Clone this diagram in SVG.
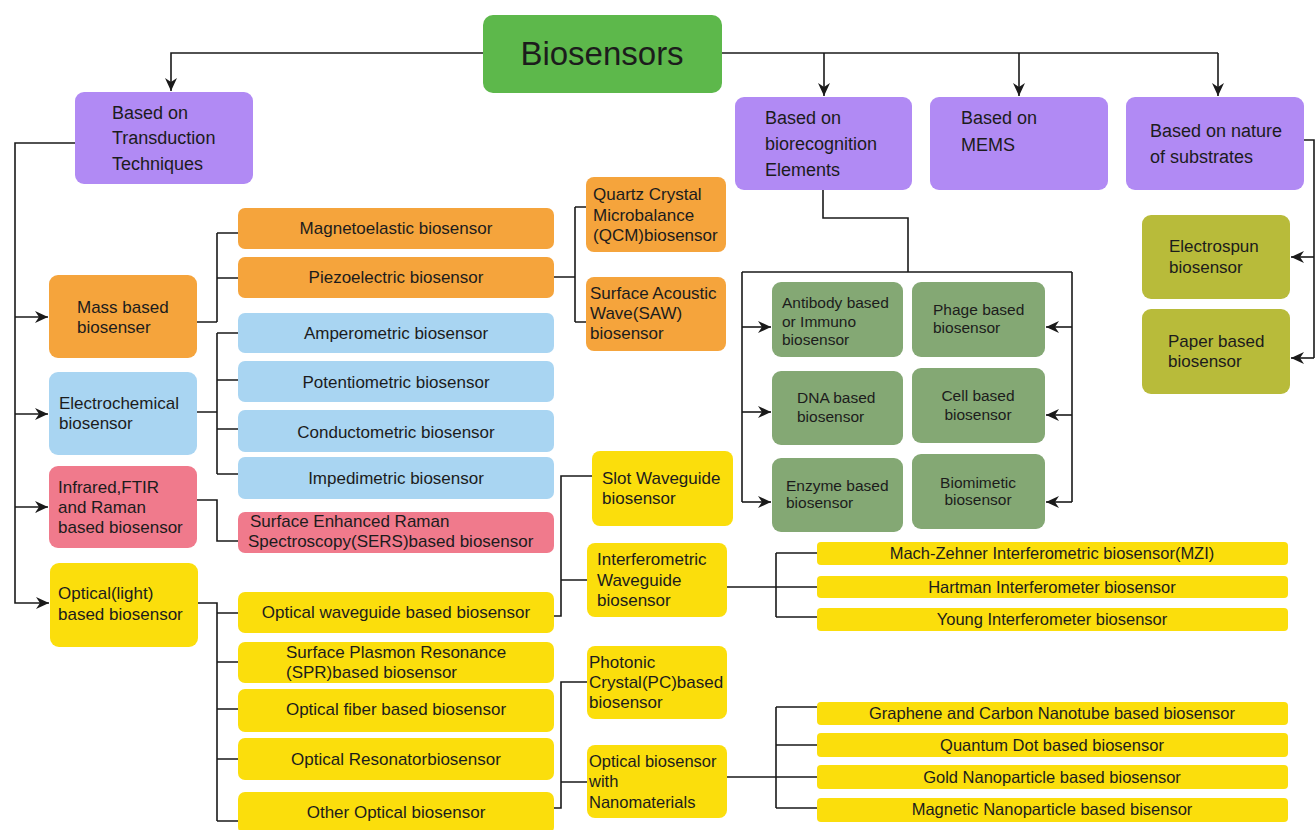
<svg xmlns="http://www.w3.org/2000/svg" width="1315" height="830" viewBox="0 0 1315 830">
<style>
  text { font-family: "Liberation Sans", Arial, sans-serif; fill: #1c1c1c; }
  .t18 { font-size: 18px; }
  .t17 { font-size: 17px; }
  .t16 { font-size: 16.5px; }
  .t15 { font-size: 15.5px; }
  .c { text-anchor: middle; }
  .purple { fill: #b18af4; }
  .green { fill: #5db84b; }
  .orange { fill: #f5a43c; }
  .blue { fill: #a9d5f2; }
  .pink { fill: #f07a8c; }
  .yellow { fill: #fbde0c; }
  .olive { fill: #b8bb3a; }
  .sage { fill: #84a874; }
  .ln { fill: none; stroke: #1a1a1a; stroke-width: 1.6; }
</style>
<defs>
  <marker id="arr" markerUnits="userSpaceOnUse" markerWidth="14" markerHeight="12" refX="13" refY="6" orient="auto">
    <path d="M0,0 L13,6 L0,12 L4,6 Z" fill="#1a1a1a"/>
  </marker>
</defs>
<rect width="1315" height="830" fill="#ffffff"/>

<g id="connectors">
  <path class="ln" d="M483,53 H171 V91" marker-end="url(#arr)"/>
  <path class="ln" d="M722,53 H1218"/>
  <path class="ln" d="M824,53 V96" marker-end="url(#arr)"/>
  <path class="ln" d="M1019,53 V96" marker-end="url(#arr)"/>
  <path class="ln" d="M1218,53 V96" marker-end="url(#arr)"/>

  <path class="ln" d="M75,143 H15 V603 H49" marker-end="url(#arr)"/>
  <path class="ln" d="M15,317 H48" marker-end="url(#arr)"/>
  <path class="ln" d="M15,414 H48" marker-end="url(#arr)"/>
  <path class="ln" d="M15,507 H48" marker-end="url(#arr)"/>

  <path class="ln" d="M197,322 H217 M217,233 V322 M217,233 H238 M217,278 H238"/>
  <path class="ln" d="M197,412 H217 M217,333 V474 M217,333 H238 M217,380 H238 M217,429 H238 M217,474 H238"/>
  <path class="ln" d="M197,500 H217 V541 H238"/>
  <path class="ln" d="M198,603 H217 V821 M217,613 H238 M217,662 H238 M217,709 H238 M217,759 H238 M217,821 H238"/>

  <path class="ln" d="M554,277 H575 M575,207 V322 M575,207 H586 M575,322 H586"/>
  <path class="ln" d="M554,616 H561 V476 H592 M561,580 H587"/>
  <path class="ln" d="M554,808 H561 V682 H587 M561,782 H587"/>

  <path class="ln" d="M727,587 H776 M776,553 V617 M776,553 H817 M776,587 H817 M776,617 H817"/>
  <path class="ln" d="M727,777 H776 M776,707 V808 M776,707 H817 M776,745 H817 M776,777 H817 M776,808 H817"/>

  <path class="ln" d="M823,190 V218 H908 V272 M742,272 H1072 M742,272 V502 M1072,272 V502"/>
  <path class="ln" d="M742,327 H771" marker-end="url(#arr)"/>
  <path class="ln" d="M742,412 H771" marker-end="url(#arr)"/>
  <path class="ln" d="M742,502 H771" marker-end="url(#arr)"/>
  <path class="ln" d="M1072,327 H1046" marker-end="url(#arr)"/>
  <path class="ln" d="M1072,415 H1046" marker-end="url(#arr)"/>
  <path class="ln" d="M1072,502 H1046" marker-end="url(#arr)"/>

  <path class="ln" d="M1304,140 H1314 V358"/>
  <path class="ln" d="M1314,257 H1291" marker-end="url(#arr)"/>
  <path class="ln" d="M1314,358 H1291" marker-end="url(#arr)"/>
</g>

<g id="biosensors">
  <rect class="green" x="483" y="15" width="239" height="78" rx="10"/>
  <text x="602" y="65" class="c" style="font-size:33px">Biosensors</text>
</g>

<g id="transduction">
  <rect class="purple" x="75" y="92" width="178" height="92" rx="9"/>
  <text class="t18" x="112" y="119">Based on</text>
  <text class="t18" x="112" y="144">Transduction</text>
  <text class="t18" x="112" y="170">Techniques</text>
</g>
<g id="biorecognition">
  <rect class="purple" x="735" y="97" width="177" height="93" rx="9"/>
  <text class="t18" x="765" y="124">Based on</text>
  <text class="t18" x="765" y="150">biorecognition</text>
  <text class="t18" x="765" y="176">Elements</text>
</g>
<g id="mems">
  <rect class="purple" x="930" y="97" width="178" height="93" rx="9"/>
  <text class="t18" x="961" y="124">Based on</text>
  <text class="t18" x="961" y="151">MEMS</text>
</g>
<g id="substrates">
  <rect class="purple" x="1126" y="97" width="178" height="93" rx="9"/>
  <text class="t18" x="1150" y="137">Based on nature</text>
  <text class="t18" x="1150" y="163">of substrates</text>
</g>

<g id="mass">
  <rect class="orange" x="49" y="275" width="148" height="83" rx="9"/>
  <text class="t17" x="77" y="313">Mass based</text>
  <text class="t17" x="77" y="333">biosenser</text>
</g>
<g id="magnetoelastic">
  <rect class="orange" x="238" y="208" width="316" height="41" rx="7"/>
  <text class="t17 c" x="396" y="234">Magnetoelastic biosensor</text>
</g>
<g id="piezoelectric">
  <rect class="orange" x="238" y="257" width="316" height="41" rx="7"/>
  <text class="t17 c" x="396" y="283">Piezoelectric biosensor</text>
</g>
<g id="qcm">
  <rect class="orange" x="586" y="177" width="140" height="75" rx="8"/>
  <text class="t17" x="593" y="200">Quartz Crystal</text>
  <text class="t17" x="593" y="221">Microbalance</text>
  <text class="t17" x="593" y="241">(QCM)biosensor</text>
</g>
<g id="saw">
  <rect class="orange" x="586" y="277" width="140" height="74" rx="8"/>
  <text class="t17" x="590" y="299">Surface Acoustic</text>
  <text class="t17" x="590" y="319">Wave(SAW)</text>
  <text class="t17" x="590" y="339">biosensor</text>
</g>

<g id="electrochemical">
  <rect class="blue" x="49" y="372" width="148" height="83" rx="9"/>
  <text class="t17" x="59" y="409">Electrochemical</text>
  <text class="t17" x="59" y="429">biosensor</text>
</g>
<g id="amperometric">
  <rect class="blue" x="238" y="313" width="316" height="40" rx="7"/>
  <text class="t17 c" x="396" y="339">Amperometric biosensor</text>
</g>
<g id="potentiometric">
  <rect class="blue" x="238" y="361" width="316" height="41" rx="7"/>
  <text class="t17 c" x="396" y="388">Potentiometric biosensor</text>
</g>
<g id="conductometric">
  <rect class="blue" x="238" y="410" width="316" height="42" rx="7"/>
  <text class="t17 c" x="396" y="438">Conductometric biosensor</text>
</g>
<g id="impedimetric">
  <rect class="blue" x="238" y="457" width="316" height="42" rx="7"/>
  <text class="t17 c" x="396" y="484">Impedimetric biosensor</text>
</g>

<g id="infrared">
  <rect class="pink" x="49" y="466" width="148" height="82" rx="9"/>
  <text class="t17" x="58" y="493">Infrared,FTIR</text>
  <text class="t17" x="58" y="513">and Raman</text>
  <text class="t17" x="58" y="533">based biosensor</text>
</g>
<g id="sers">
  <rect class="pink" x="238" y="512" width="316" height="41" rx="7"/>
  <text class="t17" x="250" y="527">Surface Enhanced Raman</text>
  <text class="t17" x="248" y="547">Spectroscopy(SERS)based biosensor</text>
</g>

<g id="optical">
  <rect class="yellow" x="50" y="563" width="148" height="84" rx="9"/>
  <text class="t17" x="58" y="599">Optical(light)</text>
  <text class="t17" x="58" y="620">based biosensor</text>
</g>
<g id="waveguide">
  <rect class="yellow" x="238" y="592" width="316" height="41" rx="7"/>
  <text class="t17 c" x="396" y="618">Optical waveguide based biosensor</text>
</g>
<g id="spr">
  <rect class="yellow" x="238" y="642" width="316" height="41" rx="7"/>
  <text class="t17" x="286" y="658">Surface Plasmon Resonance</text>
  <text class="t17" x="286" y="678">(SPR)based biosensor</text>
</g>
<g id="fiber">
  <rect class="yellow" x="238" y="689" width="316" height="43" rx="7"/>
  <text class="t17 c" x="396" y="715">Optical fiber based biosensor</text>
</g>
<g id="resonator">
  <rect class="yellow" x="238" y="738" width="316" height="42" rx="7"/>
  <text class="t17 c" x="396" y="765">Optical Resonatorbiosensor</text>
</g>
<g id="other">
  <rect class="yellow" x="238" y="792" width="316" height="42" rx="7"/>
  <text class="t17 c" x="396" y="818">Other Optical biosensor</text>
</g>
<g id="slot">
  <rect class="yellow" x="592" y="451" width="141" height="75" rx="8"/>
  <text class="t17" x="602" y="484">Slot Waveguide</text>
  <text class="t17" x="602" y="504">biosensor</text>
</g>
<g id="interferometric">
  <rect class="yellow" x="587" y="543" width="140" height="74" rx="8"/>
  <text class="t17" x="597" y="565">Interferometric</text>
  <text class="t17" x="597" y="586">Waveguide</text>
  <text class="t17" x="597" y="606">biosensor</text>
</g>
<g id="photonic">
  <rect class="yellow" x="587" y="646" width="140" height="73" rx="8"/>
  <text class="t17" x="589" y="668">Photonic</text>
  <text class="t17" x="589" y="688">Crystal(PC)based</text>
  <text class="t17" x="589" y="708">biosensor</text>
</g>
<g id="nanomaterials">
  <rect class="yellow" x="587" y="745" width="140" height="73" rx="8"/>
  <text class="t16" x="589" y="767">Optical biosensor</text>
  <text class="t16" x="589" y="787">with</text>
  <text class="t16" x="589" y="808">Nanomaterials</text>
</g>
<g id="mzi">
  <rect class="yellow" x="817" y="542" width="471" height="23" rx="4"/>
  <text class="t16 c" x="1052" y="559">Mach-Zehner Interferometric biosensor(MZI)</text>
</g>
<g id="hartman">
  <rect class="yellow" x="817" y="576" width="471" height="22" rx="4"/>
  <text class="t16 c" x="1052" y="593">Hartman Interferometer biosensor</text>
</g>
<g id="young">
  <rect class="yellow" x="817" y="608" width="471" height="23" rx="4"/>
  <text class="t16 c" x="1052" y="625">Young Interferometer biosensor</text>
</g>
<g id="graphene">
  <rect class="yellow" x="817" y="702" width="471" height="23" rx="4"/>
  <text class="t16 c" x="1052" y="719">Graphene and Carbon Nanotube based biosensor</text>
</g>
<g id="quantum">
  <rect class="yellow" x="817" y="733" width="471" height="24" rx="4"/>
  <text class="t16 c" x="1052" y="751">Quantum Dot based biosensor</text>
</g>
<g id="gold">
  <rect class="yellow" x="817" y="765" width="471" height="24" rx="4"/>
  <text class="t16 c" x="1052" y="783">Gold Nanoparticle based biosensor</text>
</g>
<g id="magnetic">
  <rect class="yellow" x="817" y="798" width="471" height="24" rx="4"/>
  <text class="t16 c" x="1052" y="815">Magnetic Nanoparticle based bisensor</text>
</g>

<g id="antibody">
  <rect class="sage" x="772" y="282" width="131" height="75" rx="9"/>
  <text class="t15" x="782" y="308">Antibody based</text>
  <text class="t15" x="782" y="327">or Immuno</text>
  <text class="t15" x="782" y="345">biosensor</text>
</g>
<g id="phage">
  <rect class="sage" x="912" y="282" width="133" height="75" rx="9"/>
  <text class="t15" x="933" y="315">Phage based</text>
  <text class="t15" x="933" y="333">biosensor</text>
</g>
<g id="dna">
  <rect class="sage" x="772" y="371" width="131" height="74" rx="9"/>
  <text class="t15" x="797" y="403">DNA based</text>
  <text class="t15" x="797" y="422">biosensor</text>
</g>
<g id="cell">
  <rect class="sage" x="912" y="368" width="133" height="75" rx="9"/>
  <text class="t15 c" x="978" y="401">Cell based</text>
  <text class="t15 c" x="978" y="420">biosensor</text>
</g>
<g id="enzyme">
  <rect class="sage" x="772" y="458" width="131" height="74" rx="9"/>
  <text class="t15" x="786" y="491">Enzyme based</text>
  <text class="t15" x="786" y="508">biosensor</text>
</g>
<g id="biomimetic">
  <rect class="sage" x="912" y="454" width="133" height="75" rx="9"/>
  <text class="t15 c" x="978" y="488">Biomimetic</text>
  <text class="t15 c" x="978" y="505">biosensor</text>
</g>

<g id="electrospun">
  <rect class="olive" x="1142" y="215" width="148" height="84" rx="9"/>
  <text class="t17" x="1169" y="252">Electrospun</text>
  <text class="t17" x="1169" y="273">biosensor</text>
</g>
<g id="paper">
  <rect class="olive" x="1142" y="309" width="148" height="85" rx="9"/>
  <text class="t17" x="1168" y="347">Paper based</text>
  <text class="t17" x="1168" y="367">biosensor</text>
</g>
</svg>
